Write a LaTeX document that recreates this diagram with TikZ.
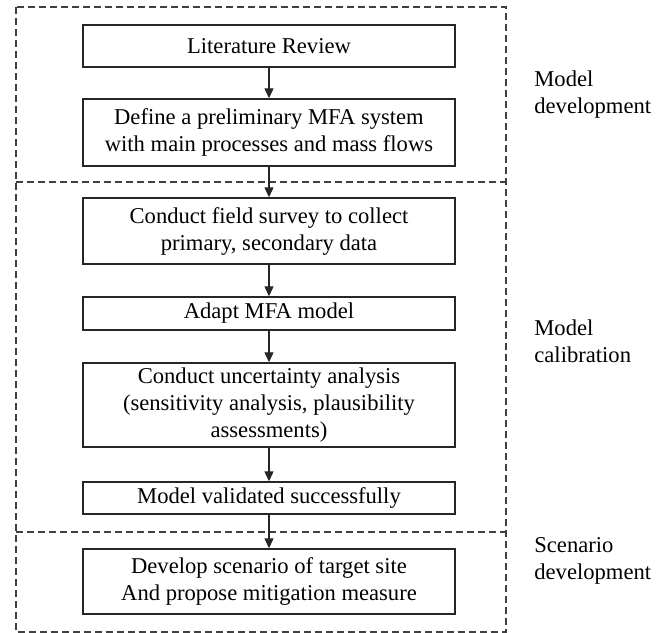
\documentclass[tikz,border=0pt]{standalone}
\usepackage{fontspec}
\setmainfont{Liberation Serif}
\usepackage{tikz}
\usetikzlibrary{arrows.meta}
\tikzstyle{block} = [rectangle, draw=black!85, line width=0.7pt, fill=white,
                 minimum width=186pt, align=center, inner sep=0pt]
\tikzstyle{flow} = [draw=black!85, line width=0.6pt, -{Triangle[length=5pt,width=4.5pt]}]
\tikzstyle{stage} = [draw=black!75, line width=0.6pt, dash pattern=on 3.5pt off 2pt]
\tikzstyle{phase} = [anchor=west, align=left, inner sep=0pt]

\begin{document}
\begin{tikzpicture}[x=0.5pt, y=-0.5pt, font=\fontsize{11.3}{13.5}\selectfont]

\useasboundingbox (0,0) rectangle (666,633);

    	%stages
\draw [stage] (16,7) rectangle (506,632);
\draw [stage] (16,182) -- (506,182);
\draw [stage] (16,532) -- (506,532);

\node [phase] at (534,95) (dev) {Model\\development};
\node [phase] at (534,341) (cal) {Model\\calibration};
\node [phase] at (534,561) (scen) {Scenario\\development};

\node [block, minimum height=21pt] at (269,46) (lit) {Literature Review};
\node [block, minimum height=33.5pt] at (269,132.5) (mfa) {Define a preliminary MFA system\\with main processes and mass flows};
\node [block, minimum height=33pt] at (269,231) (survey) {Conduct field survey to collect\\primary, secondary data};
\node [block, minimum height=16.5pt] at (269,313.5) (adapt) {Adapt MFA model};
\node [block, minimum height=42pt] at (269,405) (unc) {Conduct uncertainty analysis\\(sensitivity analysis, plausibility\\assessments)};
\node [block, minimum height=16pt] at (269,498) (valid) {Model validated successfully};
\node [block, minimum height=32.5pt] at (269,581.5) (scenario) {Develop scenario of target site\\And propose mitigation measure};

\path [flow] (lit.south) -- (mfa.north);
\path [flow] (mfa.south) -- (survey.north);
\path [flow] (survey.south) -- (adapt.north);
\path [flow] (adapt.south) -- (unc.north);
\path [flow] (unc.south) -- (valid.north);
\path [flow] (valid.south) -- (scenario.north);

\end{tikzpicture}
\end{document}
